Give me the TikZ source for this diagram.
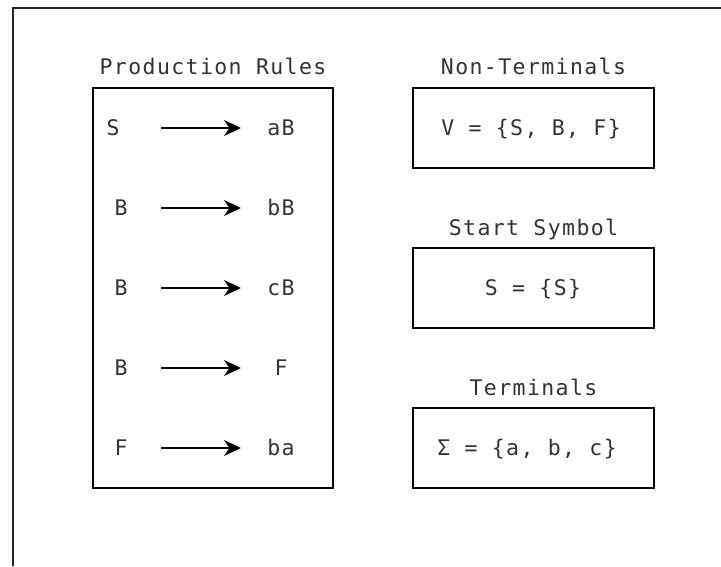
\documentclass[tikz,border=0pt]{standalone}
\usepackage{fontspec}
\usetikzlibrary{arrows.meta}
\newfontfamily\gmono[LetterSpace=6.5]{DejaVu Sans Mono}
\definecolor{inkgray}{HTML}{333333}
\begin{document}
\begin{tikzpicture}[x=1pt,y=-1pt,
  frame/.style={draw=black!85, line width=1.3pt},
  panel/.style={draw=black, line width=1.3pt, inner sep=0pt},
  txt/.style={font=\gmono\fontsize{21.5}{24}\selectfont, text=inkgray, anchor=base, inner sep=0pt},
  rulearrow/.style={draw=black, line width=1.6pt, -{Stealth[length=17pt,width=16pt,inset=5.5pt]}}
]
\useasboundingbox (0,0) rectangle (721,566);

% outer frame (left and top edges)
\coordinate (fbl) at (13,566);
\coordinate (ftl) at (13,8);
\coordinate (ftr) at (721,8);
\draw[frame] (fbl) -- (ftl) -- (ftr);

% panels
\node[panel, minimum width=240pt, minimum height=400pt] (rules) at (213,288) {};
\node[panel, minimum width=241pt, minimum height=80pt] (nonterm) at (533.5,128) {};
\node[panel, minimum width=241pt, minimum height=80pt] (start) at (533.5,288) {};
\node[panel, minimum width=241pt, minimum height=80pt] (term) at (533.5,448) {};

% panel titles
\node[txt] (trules) at (213,74) {Production Rules};
\node[txt] (tnonterm) at (533.5,74) {Non-Terminals};
\node[txt] (tstart) at (533.5,235) {Start Symbol};
\node[txt] (tterm) at (533.5,395) {Terminals};

% panel contents
\node[txt] (vset) at (531,135) {V = \{S, B, F\}};
\node[txt] (sset) at (533,295) {S = \{S\}};
\node[txt] (sigset) at (527,455) {Σ = \{a, b, c\}};

% production rules
\foreach \i/\lhs/\lx/\rhs in {1/S/113/aB, 2/B/121/bB, 3/B/121/cB, 4/B/121/F, 5/F/121/ba}{
  \pgfmathsetmacro{\ry}{128+80*(\i-1)}
  \node[txt] (l\i) at (\lx,\ry+7.5) {\lhs};
  \node[txt] (r\i) at (281,\ry+7.5) {\rhs};
  \coordinate (a\i) at (161,\ry);
  \coordinate (b\i) at (241,\ry);
  \draw[rulearrow] (a\i) -- (b\i);
}
\end{tikzpicture}
\end{document}
